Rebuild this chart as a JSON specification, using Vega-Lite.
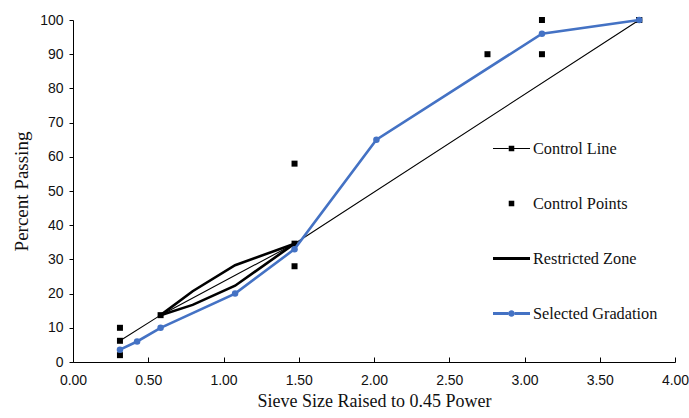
{
  "$schema": "https://vega.github.io/schema/vega-lite/v6.json",
  "width": 602,
  "height": 342,
  "autosize": {"type": "none"},
  "padding": {"left": 73, "top": 20, "right": 14, "bottom": 56},
  "background": "white",
  "config": {
    "view": {"stroke": null},
    "axis": {
      "grid": false,
      "domainColor": "#000000",
      "domainWidth": 1,
      "tickColor": "#000000",
      "labelFont": "Liberation Sans",
      "labelFontSize": 14,
      "labelColor": "#111111",
      "labelFlush": false,
      "titleFont": "Liberation Serif",
      "titleFontWeight": "normal",
      "titleColor": "#111111"
    }
  },
  "data": {
    "values": [
      {"series": "Control Line", "part": "cl", "x": 0.312, "y": 6.2},
      {"series": "Control Line", "part": "cl", "x": 0.582, "y": 13.7},
      {"series": "Control Line", "part": "cl", "x": 1.472, "y": 34.6},
      {"series": "Control Line", "part": "cl", "x": 3.762, "y": 100},
      {"series": "Control Points", "part": "cp", "x": 0.312, "y": 2},
      {"series": "Control Points", "part": "cp", "x": 0.312, "y": 10},
      {"series": "Control Points", "part": "cp", "x": 1.472, "y": 28},
      {"series": "Control Points", "part": "cp", "x": 1.472, "y": 58},
      {"series": "Control Points", "part": "cp", "x": 2.754, "y": 90},
      {"series": "Control Points", "part": "cp", "x": 3.116, "y": 90},
      {"series": "Control Points", "part": "cp", "x": 3.116, "y": 100},
      {"series": "Control Points", "part": "cp", "x": 3.762, "y": 100},
      {"series": "Restricted Zone", "part": "upper", "x": 0.582, "y": 13.7},
      {"series": "Restricted Zone", "part": "upper", "x": 0.795, "y": 20.7},
      {"series": "Restricted Zone", "part": "upper", "x": 1.077, "y": 28.3},
      {"series": "Restricted Zone", "part": "upper", "x": 1.472, "y": 34.6},
      {"series": "Restricted Zone", "part": "lower", "x": 0.582, "y": 13.7},
      {"series": "Restricted Zone", "part": "lower", "x": 0.795, "y": 16.7},
      {"series": "Restricted Zone", "part": "lower", "x": 1.077, "y": 22.3},
      {"series": "Restricted Zone", "part": "lower", "x": 1.472, "y": 34.6},
      {"series": "Selected Gradation", "part": "sg", "x": 0.312, "y": 3.6},
      {"series": "Selected Gradation", "part": "sg", "x": 0.426, "y": 6},
      {"series": "Selected Gradation", "part": "sg", "x": 0.582, "y": 10},
      {"series": "Selected Gradation", "part": "sg", "x": 1.077, "y": 20},
      {"series": "Selected Gradation", "part": "sg", "x": 1.472, "y": 33},
      {"series": "Selected Gradation", "part": "sg", "x": 2.016, "y": 65},
      {"series": "Selected Gradation", "part": "sg", "x": 3.116, "y": 96},
      {"series": "Selected Gradation", "part": "sg", "x": 3.762, "y": 100}
    ]
  },
  "encoding": {
    "x": {
      "field": "x", "type": "quantitative",
      "scale": {"domain": [0, 4], "nice": false, "zero": false},
      "axis": {
        "title": "Sieve Size Raised to 0.45 Power",
        "titleFontSize": 18,
        "values": [0, 0.5, 1, 1.5, 2, 2.5, 3, 3.5, 4],
        "format": ".2f",
        "tickSize": -5,
        "labelPadding": 16,
        "titlePadding": 5
      }
    },
    "y": {
      "field": "y", "type": "quantitative",
      "scale": {"domain": [0, 100], "nice": false},
      "axis": {
        "title": "Percent Passing",
        "titleFontSize": 19,
        "values": [0, 10, 20, 30, 40, 50, 60, 70, 80, 90, 100],
        "tickSize": 4,
        "labelPadding": 6,
        "titlePadding": 8
      }
    }
  },
  "layer": [
    {
      "transform": [{"filter": "datum.series === 'Restricted Zone'"}],
      "mark": {"type": "line", "color": "#000000", "strokeWidth": 2.6},
      "encoding": {"detail": {"field": "part"}}
    },
    {
      "transform": [{"filter": "datum.series === 'Control Line'"}],
      "mark": {"type": "line", "color": "#000000", "strokeWidth": 1.1}
    },
    {
      "transform": [{"filter": "datum.series === 'Control Line' || datum.series === 'Control Points'"}],
      "mark": {"type": "point", "shape": "square", "filled": true, "color": "#000000", "size": 36, "opacity": 1}
    },
    {
      "transform": [{"filter": "datum.series === 'Selected Gradation'"}],
      "mark": {"type": "line", "color": "#4472C4", "strokeWidth": 2.6,
               "point": {"filled": true, "color": "#4472C4", "size": 42, "opacity": 1}}
    },
    {
      "transform": [{"filter": "datum.series === 'none'"}],
      "mark": {"type": "point", "filled": true, "opacity": 1, "size": 1369},
      "encoding": {
        "color": {
          "field": "series", "type": "nominal",
          "scale": {
            "domain": ["Control Line", "Control Points", "Restricted Zone", "Selected Gradation"],
            "range": ["#000000", "#000000", "#000000", "#4472C4"]
          },
          "legend": {
            "title": null,
            "orient": "none",
            "legendX": 420,
            "legendY": 110,
            "padding": 0,
            "symbolSize": 1369,
            "symbolStrokeWidth": 0,
            "symbolOpacity": 1,
            "rowPadding": 28,
            "labelFont": "Liberation Serif",
            "labelFontSize": 16.3,
            "labelColor": "#111111",
            "labelOffset": 3,
            "labelLimit": 300
          }
        },
        "shape": {
          "field": "series", "type": "nominal",
          "scale": {
            "domain": ["Control Line", "Control Points", "Restricted Zone", "Selected Gradation"],
            "range": [
              "M-1,-0.03H-0.15V0.03H-1Z M0.15,-0.03H1V0.03H0.15Z M-0.15,-0.15H0.15V0.15H-0.15Z",
              "M-0.15,-0.15H0.15V0.15H-0.15Z",
              "M-1,-0.085H1V0.085H-1Z",
              "M-1,-0.08H-0.18V0.08H-1Z M0.18,-0.08H1V0.08H0.18Z M0.18,0A0.18,0.18 0 1 1 -0.18,0A0.18,0.18 0 1 1 0.18,0Z"
            ]
          },
          "legend": {
            "title": null,
            "orient": "none",
            "legendX": 420,
            "legendY": 110,
            "padding": 0,
            "symbolSize": 1369,
            "symbolStrokeWidth": 0,
            "symbolOpacity": 1,
            "rowPadding": 28,
            "labelFont": "Liberation Serif",
            "labelFontSize": 16.3,
            "labelColor": "#111111",
            "labelOffset": 3,
            "labelLimit": 300
          }
        }
      }
    }
  ]
}
